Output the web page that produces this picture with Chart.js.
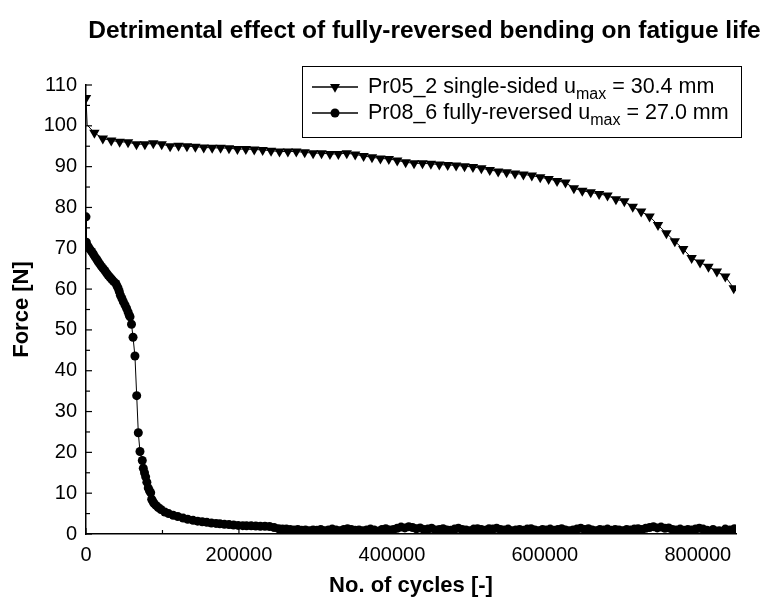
<!DOCTYPE html>
<html lang="en">
<head>
  <meta charset="UTF-8">
  <title>Detrimental effect of fully-reversed bending on fatigue life</title>
  <script src="https://cdn.jsdelivr.net/npm/chart.js"></script>
  <style>
    body { margin: 0; background: #fff; }
    #chart { display: block; }
  </style>
</head>
<body>
  <canvas id="chart" width="769" height="600"></canvas>
  <script>
    // Pr05_2 single-sided (triangles)
    const cyclesSingle = [0, 1500, 11000, 22000, 33000, 44000, 55000, 66000, 77000, 88000, 99000,
      110000, 121000, 132000, 143000, 154000, 165000, 176000, 187000, 198000, 209000,
      220000, 231000, 242000, 253000, 264000, 275000, 286000, 297000, 308000, 319000,
      330000, 341000, 352000, 363000, 374000, 385000, 396000, 407000, 418000, 429000,
      440000, 451000, 462000, 473000, 484000, 495000, 506000, 517000, 528000, 539000,
      550000, 561000, 572000, 583000, 594000, 605000, 616000, 627000, 638000, 649000,
      660000, 671000, 682000, 693000, 704000, 715000, 726000, 737000, 748000, 759000,
      770000, 781000, 792000, 803000, 814000, 825000, 836000, 847000];
    const forceSingle = [106.8, 100.2, 98.3, 96.9, 96.4, 96.1, 96.0, 95.5, 95.5, 95.7, 95.5,
      95.0, 95.1, 95.0, 94.9, 94.7, 94.6, 94.6, 94.5, 94.3, 94.3,
      94.2, 94.1, 93.9, 93.7, 93.7, 93.7, 93.5, 93.3, 93.3, 93.1,
      93.1, 93.3, 93.0, 92.6, 92.3, 92.0, 91.9, 91.5, 91.1, 90.8,
      90.8, 90.7, 90.5, 90.4, 90.3, 90.1, 89.9, 89.6, 89.2, 88.8,
      88.6, 88.3, 88.1, 87.8, 87.4, 87.0, 86.5, 86.1, 84.7, 84.1,
      83.7, 83.3, 82.9, 82.0, 81.5, 80.2, 79.0, 77.8, 75.7, 73.7,
      71.7, 69.8, 67.6, 66.5, 65.5, 64.3, 63.1, 60.2];

    // Pr08_6 fully-reversed (circles)
    const cyclesReversed = [0, 500, 3000, 5000, 7400, 9600, 11800, 14000, 16000, 18200, 20500,
      22600, 24800, 27000, 29000, 31300, 33600, 36000, 39000, 40500, 42000,
      43500, 45000, 47000, 48800, 51000, 53000, 55000, 56600, 57600, 59500,
      61500, 64000, 66300, 68400, 70600, 73600, 74900, 76500, 78000, 79600,
      81400, 83000, 84600, 85900, 87400, 88900, 91500, 94500, 98000, 103000,
      108000, 114000, 120000, 127000, 133000, 140000, 146000, 152000, 158000, 164000,
      170000, 175000, 181000, 187000, 193000, 199000, 205000, 210000, 216000, 222000,
      228000, 234000, 240000, 246000, 252000, 257000, 262000, 267000, 272000, 277000,
      282000, 287000, 292000, 297000, 302000, 307000, 312000, 317000, 322000, 327000,
      332000, 337000, 342000, 347000, 352000, 357000, 362000, 367000, 372000, 377000,
      382000, 387000, 392000, 397000, 402000, 407000, 412000, 417000, 422000, 427000,
      432000, 437000, 442000, 447000, 452000, 457000, 462000, 467000, 472000, 477000,
      482000, 487000, 492000, 497000, 502000, 507000, 512000, 517000, 522000, 527000,
      532000, 537000, 542000, 547000, 552000, 557000, 562000, 567000, 572000, 577000,
      582000, 587000, 592000, 597000, 602000, 607000, 612000, 617000, 622000, 627000,
      632000, 637000, 642000, 647000, 652000, 657000, 662000, 667000, 672000, 677000,
      682000, 687000, 692000, 697000, 702000, 707000, 712000, 717000, 722000, 727000,
      732000, 737000, 742000, 747000, 752000, 757000, 762000, 767000, 772000, 777000,
      782000, 787000, 792000, 797000, 802000, 807000, 812000, 820000, 828000, 836000,
      842000, 848000];
    const forceReversed = [77.7, 71.5, 70.4, 69.8, 69.2, 68.6, 67.9, 67.3, 66.7, 66.1, 65.5,
      65.0, 64.5, 63.9, 63.4, 62.9, 62.4, 61.9, 61.4, 60.8, 60.2,
      59.4, 58.5, 57.7, 56.9, 56.1, 55.3, 54.4, 53.6, 53.2, 51.4,
      48.2, 43.6, 33.9, 24.8, 20.2, 18.0, 16.1, 15.0, 14.0, 12.7,
      11.3, 10.6, 10.1, 8.5, 8.0, 7.5, 7.0, 6.5, 6.0, 5.4,
      5.0, 4.6, 4.3, 3.9, 3.6, 3.35, 3.15, 3.0, 2.85, 2.7,
      2.6, 2.5, 2.4, 2.3, 2.2, 2.1, 2.05, 2.0, 2.0, 1.95,
      1.9, 1.9, 1.85, 1.6, 1.3, 1.2, 1.2, 1.1, 1.0, 1.1,
      0.9, 1.0, 0.8, 1.0, 0.9, 1.1, 0.8, 1.0, 1.2, 1.0,
      0.8, 1.1, 1.3, 1.1, 0.9, 1.0, 0.8, 1.0, 1.2, 1.0,
      0.7, 1.1, 1.3, 1.0, 1.1, 1.4, 1.7, 1.5, 1.8, 1.6,
      1.3, 1.5, 1.1, 1.2, 1.4, 1.0, 1.1, 1.3, 1.0, 0.9,
      1.2, 1.4, 1.1, 1.0, 0.8, 1.2, 1.3, 1.1, 0.9, 1.3,
      1.2, 1.4, 1.1, 1.0, 1.2, 0.8, 1.0, 1.1, 0.9, 1.2,
      1.3, 1.0, 0.8, 1.1, 1.0, 1.2, 0.9, 1.1, 1.3, 1.0,
      0.8, 1.0, 1.2, 1.4, 1.1, 1.3, 1.0, 0.8, 1.1, 1.0,
      1.2, 0.9, 1.1, 1.0, 0.8, 1.1, 1.0, 1.2, 1.3, 1.1,
      1.4, 1.6, 1.8, 1.5, 1.7, 1.4, 1.5, 1.1, 1.0, 1.2,
      0.9, 1.1, 1.0, 1.2, 1.4, 1.2, 0.9, 1.1, 0.8, 1.2,
      1.0, 1.3];

    const xMajorTicks = [0, 200000, 400000, 600000, 800000];
    const xMinorTicks = [100000, 300000, 500000, 700000];
    const yMajorTicks = [0, 10, 20, 30, 40, 50, 60, 70, 80, 90, 100, 110];
    const yMinorTicks = [5, 15, 25, 35, 45, 55, 65, 75, 85, 95, 105];

    const chartTitle = 'Detrimental effect of fully-reversed bending on fatigue life';
    const legendItems = [
      { style: 'triangle', before: 'Pr05_2 single-sided u', sub: 'max', after: ' = 30.4 mm' },
      { style: 'circle', before: 'Pr08_6 fully-reversed u', sub: 'max', after: ' = 27.0 mm' }
    ];

    const FONT = '"Liberation Sans", Arial, sans-serif';

    function drawMarker(ctx, style, x, y) {
      ctx.beginPath();
      if (style === 'triangle') {
        const r = 5.8;
        ctx.moveTo(x, y + r);
        ctx.lineTo(x - r * 0.866, y - r * 0.5);
        ctx.lineTo(x + r * 0.866, y - r * 0.5);
        ctx.closePath();
      } else {
        ctx.arc(x, y, 4.5, 0, Math.PI * 2);
      }
      ctx.fill();
    }

    // title sits right of the canvas centre in the original
    const offsetTitle = {
      id: 'offsetTitle',
      afterDraw(chart) {
        const ctx = chart.ctx;
        ctx.save();
        ctx.fillStyle = '#000';
        ctx.font = 'bold 24.5px ' + FONT;
        ctx.textAlign = 'center';
        ctx.textBaseline = 'middle';
        ctx.fillText(chartTitle, 424.5, 31);
        ctx.restore();
      }
    };

    // inward tick marks, drawn from the scales
    const tickMarks = {
      id: 'tickMarks',
      afterDraw(chart) {
        const { ctx, scales: { x, y } } = chart;
        ctx.save();
        ctx.strokeStyle = '#000';
        ctx.lineWidth = 1.2;
        const left = x.left, bottom = y.bottom;
        const mark = (vals, len, horiz) => vals.forEach(v => {
          ctx.beginPath();
          if (horiz) {
            const px = x.getPixelForValue(v);
            ctx.moveTo(px, bottom); ctx.lineTo(px, bottom - len);
          } else {
            const py = y.getPixelForValue(v);
            ctx.moveTo(left, py); ctx.lineTo(left + len, py);
          }
          ctx.stroke();
        });
        mark(xMajorTicks, 6, true);
        mark(xMinorTicks, 4, true);
        mark(yMajorTicks, 6, false);
        mark(yMinorTicks, 4, false);
        ctx.restore();
      }
    };

    // legend with subscript text
    const boxLegend = {
      id: 'boxLegend',
      afterDraw(chart) {
        const ctx = chart.ctx;
        const bx = 302, by = 66, bw = 439, bh = 71;
        ctx.save();
        ctx.fillStyle = '#fff';
        ctx.fillRect(bx, by, bw, bh);
        ctx.strokeStyle = '#000';
        ctx.lineWidth = 1;
        ctx.strokeRect(bx + 0.5, by + 0.5, bw, bh);
        legendItems.forEach((item, i) => {
          const cy = by + 21 + i * 26;
          ctx.strokeStyle = '#000';
          ctx.lineWidth = 1.5;
          ctx.beginPath();
          ctx.moveTo(312, cy); ctx.lineTo(358, cy);
          ctx.stroke();
          ctx.fillStyle = '#000';
          drawMarker(ctx, item.style, 335, cy);
          ctx.textBaseline = 'middle';
          ctx.textAlign = 'left';
          let tx = 368;
          ctx.font = '21.5px ' + FONT;
          ctx.fillText(item.before, tx, cy);
          tx += ctx.measureText(item.before).width;
          ctx.font = '16px ' + FONT;
          ctx.fillText(item.sub, tx, cy + 8);
          tx += ctx.measureText(item.sub).width;
          ctx.font = '21.5px ' + FONT;
          ctx.fillText(item.after, tx, cy);
        });
        ctx.restore();
      }
    };

    new Chart(document.getElementById('chart'), {
      type: 'scatter',
      data: {
        datasets: [{
          label: 'Pr05_2 single-sided',
          data: cyclesSingle.map((c, i) => ({ x: c, y: forceSingle[i] })),
          showLine: true,
          borderColor: '#000',
          borderWidth: 1,
          backgroundColor: '#000',
          pointStyle: 'triangle',
          pointRotation: 180,
          pointRadius: c => c.dataIndex === 1 ? 0 : 6,
          pointBorderWidth: 0,
          tension: 0
        }, {
          label: 'Pr08_6 fully-reversed',
          data: cyclesReversed.map((c, i) => ({ x: c, y: forceReversed[i] })),
          showLine: true,
          borderColor: '#000',
          borderWidth: 1,
          backgroundColor: '#000',
          pointStyle: 'circle',
          pointRadius: 4.5,
          pointBorderWidth: 0,
          tension: 0
        }]
      },
      options: {
        responsive: false,
        animation: false,
        devicePixelRatio: 1,
        layout: { padding: { left: 0, right: 33, top: 85, bottom: 0 } },
        plugins: {
          legend: { display: false },
          tooltip: { enabled: false },
          title: { display: false }
        },
        scales: {
          x: {
            type: 'linear',
            min: 0,
            max: 850000,
            afterBuildTicks: s => { s.ticks = xMajorTicks.map(v => ({ value: v })); },
            afterFit: s => { s.height = 66; },
            grid: { display: false, drawTicks: false },
            border: { display: true, color: '#000', width: 1.5 },
            ticks: {
              color: '#000',
              padding: 9,
              maxRotation: 0,
              font: { family: FONT, size: 20 },
              callback: v => String(v)
            },
            title: {
              display: true,
              text: 'No. of cycles [-]',
              color: '#000',
              font: { family: FONT, size: 22, weight: 'bold', lineHeight: 1.2 },
              padding: { top: 0, bottom: 1 }
            }
          },
          y: {
            min: 0,
            max: 110,
            afterBuildTicks: s => { s.ticks = yMajorTicks.map(v => ({ value: v })); },
            afterFit: s => { s.width = 86; },
            grid: { display: false, drawTicks: false },
            border: { display: true, color: '#000', width: 1.5 },
            ticks: {
              color: '#000',
              padding: 9,
              font: { family: FONT, size: 20 },
              callback: v => String(v)
            },
            title: {
              display: true,
              text: 'Force [N]',
              color: '#000',
              font: { family: FONT, size: 22, weight: 'bold', lineHeight: 1.2 },
              padding: { top: 9, bottom: 0 }
            }
          }
        }
      },
      plugins: [offsetTitle, tickMarks, boxLegend]
    });
  </script>
</body>
</html>
